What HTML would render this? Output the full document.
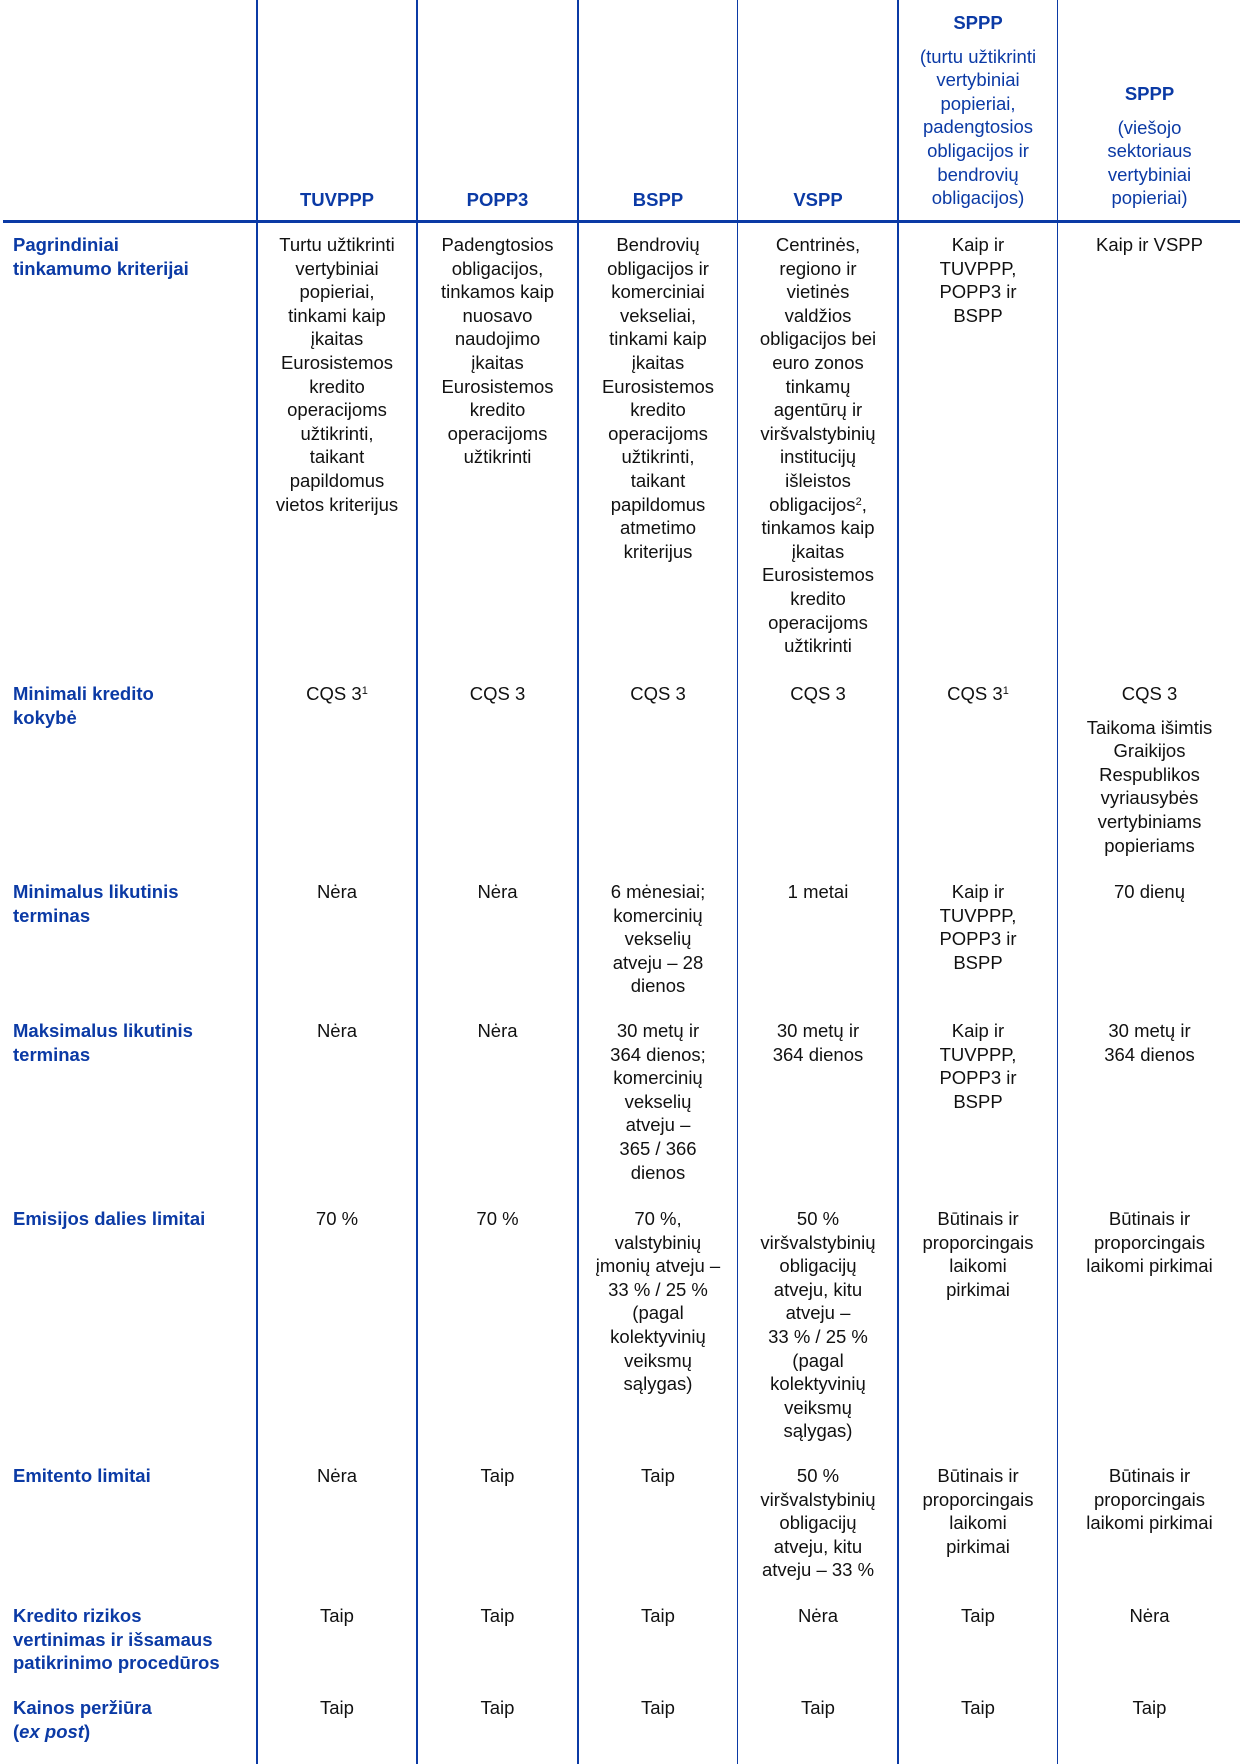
<!DOCTYPE html>
<html><head><meta charset="utf-8"><style>
html,body{margin:0;padding:0;background:#fff;width:1240px;height:1764px;overflow:hidden;position:relative;font-family:"Liberation Sans",Arial,sans-serif;}
.v{position:absolute;top:0;height:1764px;width:2px;background:#0b3aa5;}
.h{position:absolute;left:3px;width:1237px;top:220px;height:3px;background:#0b3aa5;}
.c{position:absolute;text-align:center;font-size:18.5px;line-height:23.6px;color:#111;white-space:nowrap;}
.l{position:absolute;left:13px;width:240px;font-size:18.5px;line-height:23.6px;color:#0b3aa5;font-weight:bold;white-space:nowrap;}
.hd{position:absolute;text-align:center;font-size:18.5px;line-height:23.6px;color:#0b3aa5;white-space:nowrap;}
b{font-weight:bold}
sup{font-size:11px;line-height:0;vertical-align:6px}
</style></head><body>
<div class="v" style="left:256px"></div>
<div class="v" style="left:416px"></div>
<div class="v" style="left:577px"></div>
<div class="v" style="left:737px;width:1px"></div>
<div class="v" style="left:897px"></div>
<div class="v" style="left:1057px;width:1px"></div>
<div class="h"></div>

<!-- header -->
<div class="hd" style="left:258px;width:158px;top:188px"><b>TUVPPP</b></div>
<div class="hd" style="left:418px;width:159px;top:188px"><b>POPP3</b></div>
<div class="hd" style="left:579px;width:158px;top:188px"><b>BSPP</b></div>
<div class="hd" style="left:739px;width:158px;top:188px"><b>VSPP</b></div>
<div class="hd" style="left:899px;width:158px;top:11px"><b>SPPP</b><div style="height:10px"></div>(turtu užtikrinti<br>vertybiniai<br>popieriai,<br>padengtosios<br>obligacijos ir<br>bendrovių<br>obligacijos)</div>
<div class="hd" style="left:1059px;width:181px;top:82px"><b>SPPP</b><div style="height:10px"></div>(viešojo<br>sektoriaus<br>vertybiniai<br>popieriai)</div>

<!-- row1 -->
<div class="l" style="top:233px">Pagrindiniai<br>tinkamumo kriterijai</div>
<div class="c" style="left:258px;width:158px;top:233px">Turtu užtikrinti<br>vertybiniai<br>popieriai,<br>tinkami kaip<br>įkaitas<br>Eurosistemos<br>kredito<br>operacijoms<br>užtikrinti,<br>taikant<br>papildomus<br>vietos kriterijus</div>
<div class="c" style="left:418px;width:159px;top:233px">Padengtosios<br>obligacijos,<br>tinkamos kaip<br>nuosavo<br>naudojimo<br>įkaitas<br>Eurosistemos<br>kredito<br>operacijoms<br>užtikrinti</div>
<div class="c" style="left:579px;width:158px;top:233px">Bendrovių<br>obligacijos ir<br>komerciniai<br>vekseliai,<br>tinkami kaip<br>įkaitas<br>Eurosistemos<br>kredito<br>operacijoms<br>užtikrinti,<br>taikant<br>papildomus<br>atmetimo<br>kriterijus</div>
<div class="c" style="left:739px;width:158px;top:233px">Centrinės,<br>regiono ir<br>vietinės<br>valdžios<br>obligacijos bei<br>euro zonos<br>tinkamų<br>agentūrų ir<br>viršvalstybinių<br>institucijų<br>išleistos<br>obligacijos<sup>2</sup>,<br>tinkamos kaip<br>įkaitas<br>Eurosistemos<br>kredito<br>operacijoms<br>užtikrinti</div>
<div class="c" style="left:899px;width:158px;top:233px">Kaip ir<br>TUVPPP,<br>POPP3 ir<br>BSPP</div>
<div class="c" style="left:1059px;width:181px;top:233px">Kaip ir VSPP</div>

<!-- row2 -->
<div class="l" style="top:682px">Minimali kredito<br>kokybė</div>
<div class="c" style="left:258px;width:158px;top:682px">CQS 3<sup>1</sup></div>
<div class="c" style="left:418px;width:159px;top:682px">CQS 3</div>
<div class="c" style="left:579px;width:158px;top:682px">CQS 3</div>
<div class="c" style="left:739px;width:158px;top:682px">CQS 3</div>
<div class="c" style="left:899px;width:158px;top:682px">CQS 3<sup>1</sup></div>
<div class="c" style="left:1059px;width:181px;top:682px">CQS 3<div style="height:10px"></div>Taikoma išimtis<br>Graikijos<br>Respublikos<br>vyriausybės<br>vertybiniams<br>popieriams</div>

<!-- row3 -->
<div class="l" style="top:880px">Minimalus likutinis<br>terminas</div>
<div class="c" style="left:258px;width:158px;top:880px">Nėra</div>
<div class="c" style="left:418px;width:159px;top:880px">Nėra</div>
<div class="c" style="left:579px;width:158px;top:880px">6 mėnesiai;<br>komercinių<br>vekselių<br>atveju – 28<br>dienos</div>
<div class="c" style="left:739px;width:158px;top:880px">1 metai</div>
<div class="c" style="left:899px;width:158px;top:880px">Kaip ir<br>TUVPPP,<br>POPP3 ir<br>BSPP</div>
<div class="c" style="left:1059px;width:181px;top:880px">70 dienų</div>

<!-- row4 -->
<div class="l" style="top:1019px">Maksimalus likutinis<br>terminas</div>
<div class="c" style="left:258px;width:158px;top:1019px">Nėra</div>
<div class="c" style="left:418px;width:159px;top:1019px">Nėra</div>
<div class="c" style="left:579px;width:158px;top:1019px">30 metų ir<br>364 dienos;<br>komercinių<br>vekselių<br>atveju –<br>365 / 366<br>dienos</div>
<div class="c" style="left:739px;width:158px;top:1019px">30 metų ir<br>364 dienos</div>
<div class="c" style="left:899px;width:158px;top:1019px">Kaip ir<br>TUVPPP,<br>POPP3 ir<br>BSPP</div>
<div class="c" style="left:1059px;width:181px;top:1019px">30 metų ir<br>364 dienos</div>

<!-- row5 -->
<div class="l" style="top:1207px">Emisijos dalies limitai</div>
<div class="c" style="left:258px;width:158px;top:1207px">70 %</div>
<div class="c" style="left:418px;width:159px;top:1207px">70 %</div>
<div class="c" style="left:579px;width:158px;top:1207px">70 %,<br>valstybinių<br>įmonių atveju –<br>33 % / 25 %<br>(pagal<br>kolektyvinių<br>veiksmų<br>sąlygas)</div>
<div class="c" style="left:739px;width:158px;top:1207px">50 %<br>viršvalstybinių<br>obligacijų<br>atveju, kitu<br>atveju –<br>33 % / 25 %<br>(pagal<br>kolektyvinių<br>veiksmų<br>sąlygas)</div>
<div class="c" style="left:899px;width:158px;top:1207px">Būtinais ir<br>proporcingais<br>laikomi<br>pirkimai</div>
<div class="c" style="left:1059px;width:181px;top:1207px">Būtinais ir<br>proporcingais<br>laikomi pirkimai</div>

<!-- row6 -->
<div class="l" style="top:1464px">Emitento limitai</div>
<div class="c" style="left:258px;width:158px;top:1464px">Nėra</div>
<div class="c" style="left:418px;width:159px;top:1464px">Taip</div>
<div class="c" style="left:579px;width:158px;top:1464px">Taip</div>
<div class="c" style="left:739px;width:158px;top:1464px">50 %<br>viršvalstybinių<br>obligacijų<br>atveju, kitu<br>atveju – 33 %</div>
<div class="c" style="left:899px;width:158px;top:1464px">Būtinais ir<br>proporcingais<br>laikomi<br>pirkimai</div>
<div class="c" style="left:1059px;width:181px;top:1464px">Būtinais ir<br>proporcingais<br>laikomi pirkimai</div>

<!-- row7 -->
<div class="l" style="top:1604px">Kredito rizikos<br>vertinimas ir išsamaus<br>patikrinimo procedūros</div>
<div class="c" style="left:258px;width:158px;top:1604px">Taip</div>
<div class="c" style="left:418px;width:159px;top:1604px">Taip</div>
<div class="c" style="left:579px;width:158px;top:1604px">Taip</div>
<div class="c" style="left:739px;width:158px;top:1604px">Nėra</div>
<div class="c" style="left:899px;width:158px;top:1604px">Taip</div>
<div class="c" style="left:1059px;width:181px;top:1604px">Nėra</div>

<!-- row8 -->
<div class="l" style="top:1696px">Kainos peržiūra<br>(<i>ex post</i>)</div>
<div class="c" style="left:258px;width:158px;top:1696px">Taip</div>
<div class="c" style="left:418px;width:159px;top:1696px">Taip</div>
<div class="c" style="left:579px;width:158px;top:1696px">Taip</div>
<div class="c" style="left:739px;width:158px;top:1696px">Taip</div>
<div class="c" style="left:899px;width:158px;top:1696px">Taip</div>
<div class="c" style="left:1059px;width:181px;top:1696px">Taip</div>
</body></html>
